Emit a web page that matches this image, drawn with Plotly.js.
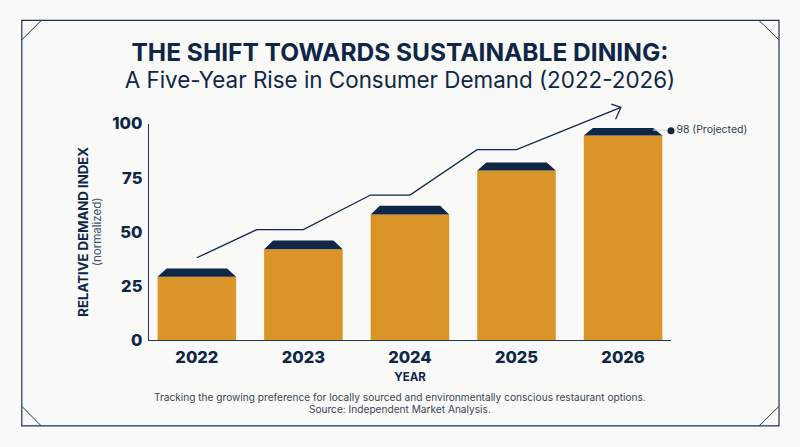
<!DOCTYPE html>
<html><head><meta charset="utf-8"><script src="https://cdn.plot.ly/plotly-3.0.1.min.js"></script>
<style>html,body{margin:0;padding:0;background:#f9f9f8}</style></head><body><div id="c" style="width:800px;height:447px"></div>
<script>
const years = ['2022','2023','2024','2025','2026'];
const bodyValues = [29.2, 41.9, 58, 78.3, 94.5];
const totalValues = [33, 46, 62, 82, 98];
const trendX = [0, 0.563, 1, 1.63, 2, 2.63, 3, 3.98];
const trendY = [38, 51, 51, 67, 67, 88, 88, 107.5];
const arrowX = [3.89, 3.98, 3.93];
const arrowY = [109, 107.5, 102];
const yTicks = [0, 25, 50, 75, 100];
const navy = '#0f2747', gold = '#da9427', rule = '#1d3557';
const barW = 0.737, capInset = 0.085;
const idx = years.map((_, i) => i);
const capX = [], capY = [];
idx.forEach(i => {
  capX.push(i - barW/2, i - barW/2 + capInset, i + barW/2 - capInset, i + barW/2, i - barW/2, null);
  capY.push(bodyValues[i], totalValues[i], totalValues[i], bodyValues[i], bodyValues[i], null);
});
const F = 'Inter, sans-serif';
const traces = [
 {type:'bar', x:idx, y:bodyValues, width:barW, marker:{color:gold}, hoverinfo:'skip'},
 {type:'scatter', mode:'lines', x:capX, y:capY, fill:'toself', fillcolor:navy, line:{width:0,color:navy}, hoverinfo:'skip'},
 {type:'scatter', mode:'lines', xaxis:'x', yaxis:'y2', x:trendX, y:trendY, line:{color:navy,width:1.3}},
 {type:'scatter', mode:'lines', xaxis:'x', yaxis:'y2', x:arrowX, y:arrowY, line:{color:navy,width:1.3}},
 {type:'scatter', mode:'lines', x:[4.28,4.42], y:[97,97], line:{color:'#d4d6d9',width:1}},
 {type:'scatter', mode:'markers+text', x:[4.45], y:[96.7], marker:{color:navy,size:7}, text:['98 (Projected)'], textposition:'middle right', textfont:{family:F,size:10.5,color:'#2d3b50'}, cliponaxis:false}
];
const L=148.7,R=670.7,T=101.8,B=340.5;
const px = v => (v-L)/(R-L), py = v => (B-v)/(B-T);
const seg = (x0,y0,x1,y1,w=1) => ({type:'line',xref:'paper',yref:'paper',x0:px(x0),y0:py(y0),x1:px(x1),y1:py(y1),line:{color:rule,width:w}});
const layout = {
 width:800,height:447,showlegend:false,
 paper_bgcolor:'#f9f9f8',plot_bgcolor:'rgba(0,0,0,0)',
 margin:{l:L,r:800-R,t:T,b:447-B,pad:0},
 title:{text:'<span style="font-size:24.5px"><b>THE SHIFT TOWARDS SUSTAINABLE DINING:</b></span><br><span style="font-size:22.4px">A Five-Year Rise in Consumer Demand (2022-2026)</span>',
   font:{family:F,size:21,color:navy},x:0.5,xref:'container',xanchor:'center',y:0.864,yanchor:'top'},
 xaxis:{range:[-0.449,4.45],tickvals:idx,ticktext:years,showgrid:false,zeroline:false,showline:true,linecolor:rule,linewidth:1.3,ticks:'outside',ticklen:2,tickcolor:'rgba(0,0,0,0)',
   tickfont:{family:F,size:16.5,color:navy,weight:800},title:{text:'<b>YEAR</b>',font:{family:F,size:11.5,color:navy},standoff:7}},
 yaxis:{domain:[0,100/110],range:[0,100],tickvals:yTicks,showgrid:false,zeroline:false,showline:true,linecolor:rule,linewidth:1.3,ticks:'outside',ticklen:2,tickcolor:'rgba(0,0,0,0)',
   tickfont:{family:F,size:16.5,color:navy,weight:800},title:{text:'<span style="font-size:13.2px"><b>RELATIVE DEMAND INDEX</b></span><br><span style="font-size:11.5px;color:#44526a">(normalized)</span>',font:{family:F,size:10,color:navy},standoff:8}},
 yaxis2:{domain:[0,1],range:[0,110],visible:false,anchor:'x'},
 shapes:[
  {type:'rect',xref:'paper',yref:'paper',x0:px(21.5),x1:px(778.7),y0:py(20),y1:py(426.7),line:{color:rule,width:1.2}},
  seg(21.5,39.5,41,20),seg(758.7,20,778.7,39.5),seg(21.5,407,41,426.7),seg(758.7,426.7,778.7,407)
 ],
 annotations:[{xref:'paper',yref:'paper',x:px(400),y:py(403.5),xanchor:'center',yanchor:'middle',showarrow:false,
   text:'<span style="font-size:10.15px">Tracking the growing preference for locally sourced and environmentally conscious restaurant options.</span><br><span style="font-size:10.15px">Source: Independent Market Analysis.</span>',
   font:{family:F,size:9,color:'#3a4657'}}]
};
Plotly.newPlot('c',traces,layout,{displayModeBar:false,staticPlot:true});
</script></body></html>
